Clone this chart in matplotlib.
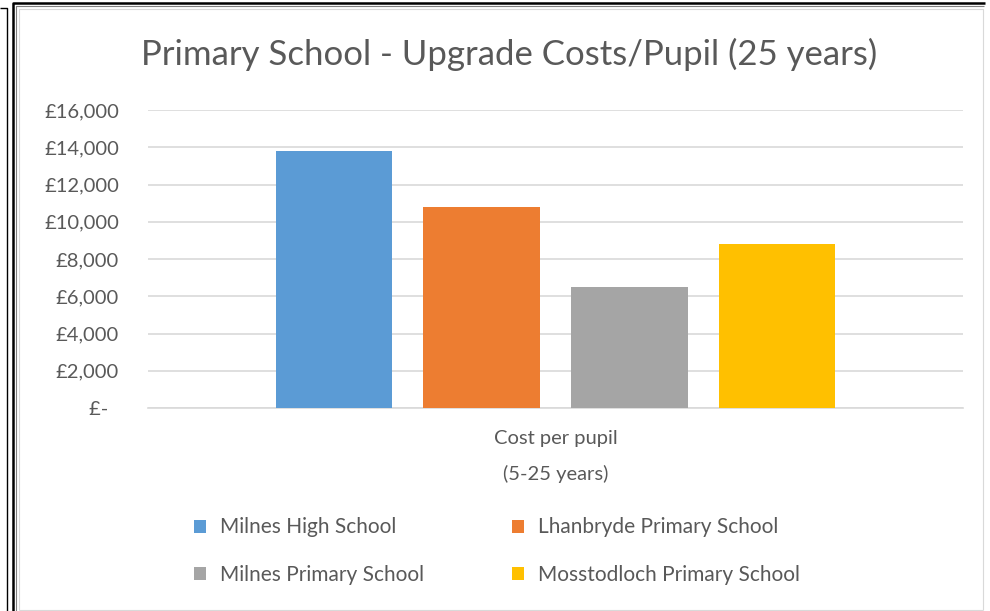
import matplotlib
matplotlib.use("Agg")
import matplotlib.pyplot as plt
from matplotlib.lines import Line2D
from matplotlib.ticker import FuncFormatter

# values
schools = ["Milnes High School", "Lhanbryde Primary School", "Milnes Primary School", "Mosstodloch Primary School"]
cost_per_pupil = [13780, 10800, 6480, 8830]
category = "Cost per pupil\n(5-25 years)"
colours = ["#5B9BD5", "#ED7D31", "#A5A5A5", "#FFC000"]
yticks = list(range(0, 16001, 2000))
title = "Primary School - Upgrade Costs/Pupil (25 years)"

plt.rcParams["font.family"] = ["Lato", "DejaVu Sans"]
grey_text = "#595959"
grid_col = "#D9D9D9"

W, H = 990, 611
fig = plt.figure(figsize=(W / 100, H / 100), dpi=100)


def fx(px):
    return px / W


def fy(py):
    return 1 - py / H


ax = fig.add_axes([fx(148), fy(408), fx(963) - fx(148), fy(110) - fy(408)])

offsets = [-1.5, -0.5, 0.5, 1.5]
bars = []
for off, name, val, col in zip(offsets, schools, cost_per_pupil, colours):
    b = ax.bar(off, val, width=0.79, color=col, linewidth=0, label=name, zorder=3)
    bars.append(b)

ax.set_xlim(-2.759, 2.759)
ax.set_ylim(0, 16000)
ax.set_yticks(yticks)
ax.yaxis.set_major_formatter(FuncFormatter(lambda v, p: "£-  " if v == 0 else f"£{v:,.0f}"))
ax.set_xticks([0])
ax.set_xticklabels([category], linespacing=2.15)
ax.tick_params(axis="y", length=0, pad=21, labelsize=14.5, labelcolor=grey_text)
ax.tick_params(axis="x", length=0, pad=16, labelsize=14.5, labelcolor=grey_text)
ax.yaxis.grid(True, color=grid_col, linewidth=1.2, zorder=0)
for s in ["top", "left", "right"]:
    ax.spines[s].set_visible(False)
ax.spines["bottom"].set_color(grid_col)
ax.spines["bottom"].set_linewidth(1.2)

fig.text(fx(509), fy(65), title, ha="center", va="baseline", fontsize=25, color=grey_text)

# legend filled row by row like Excel
order = [0, 2, 1, 3]
leg = fig.legend([bars[i] for i in order], [schools[i] for i in order], ncol=2,
                 loc="center", bbox_to_anchor=(fx(497), fy(551)), bbox_transform=fig.transFigure,
                 frameon=False, fontsize=15, handlelength=0.58, handleheight=0.6,
                 handletextpad=0.67, columnspacing=4.25, labelspacing=1.3, borderpad=0)
for t in leg.get_texts():
    t.set_color(grey_text)

# frame lines from the screenshot
def line(xs, ys, col, lw):
    fig.add_artist(Line2D([fx(x) for x in xs], [fy(y) for y in ys], color=col, linewidth=lw,
                          transform=fig.transFigure, solid_capstyle="butt"))


line([0, 7, 7], [8, 8, 611], "black", 1.0)
line([13, 13, 985], [611, 3, 3], "black", 1.8)
line([16, 16, 984], [611, 6, 6], "#7F7F7F", 0.8)
line([18.5, 18.5, 983, 983], [610, 8.5, 8.5, 610], grid_col, 0.8)
line([18.5, 983], [610, 610], grid_col, 0.8)

fig.savefig("out.png", dpi=100)
